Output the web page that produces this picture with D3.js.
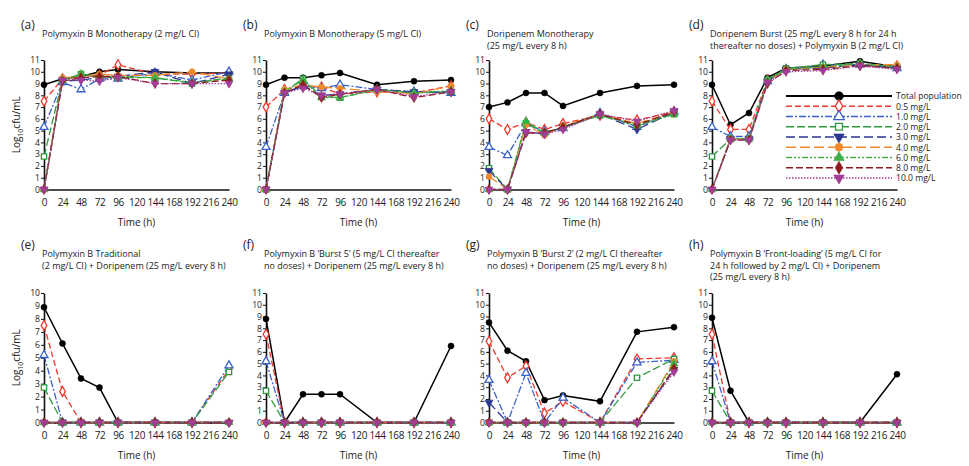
<!DOCTYPE html>
<html>
<head>
<meta charset="utf-8">
<script src="https://cdn.jsdelivr.net/npm/d3@7"></script>
<style>
  body { margin: 0; background: #fff; }
  svg { display: block; font-family: "Open Sans", "Noto Sans", sans-serif; }
</style>
</head>
<body>
<div id="chart"></div>
<script>
// time points (h) and tick labels
const hours = [0, 24, 48, 72, 96, 144, 192, 240];
const xTicks = [0, 24, 48, 72, 96, 120, 144, 168, 192, 216, 240];
const seriesNames = ["Total population", "0.5 mg/L", "1.0 mg/L", "2.0 mg/L", "3.0 mg/L",
                     "4.0 mg/L", "6.0 mg/L", "8.0 mg/L", "10.0 mg/L"];

// log10 cfu/mL, one row per series (same order as seriesNames)
const panelA = [
    [8.9, 9.4, 9.6, 10.0, 10.2, 10.0, 9.9, 9.9],
    [7.5, 9.4, 9.6, 9.7, 10.6, 9.8, 9.8, 9.9],
    [5.3, 9.1, 8.5, 9.4, 9.4, 9.9, 9.3, 10.0],
    [2.8, 9.3, 9.8, 9.6, 9.5, 9.5, 9.0, 9.5],
    [0, 9.2, 9.3, 9.5, 9.6, 10.0, 9.0, 9.8],
    [0, 9.5, 9.6, 9.8, 9.7, 9.7, 10.0, 9.4],
    [0, 9.3, 9.8, 9.5, 9.6, 9.5, 9.1, 9.4],
    [0, 9.2, 9.5, 9.6, 9.6, 9.0, 9.0, 9.3],
    [0, 9.3, 9.3, 9.2, 9.5, 9.0, 9.0, 9.0]
];
const panelB = [
    [8.9, 9.5, 9.5, 9.7, 9.9, 8.9, 9.2, 9.3],
    [7.0, 8.5, 8.8, 8.7, 8.1, 8.3, 8.2, 8.8],
    [3.6, 8.2, 8.8, 8.6, 8.9, 8.5, 8.3, 8.2],
    [0, 8.3, 9.4, 7.9, 7.8, 8.5, 8.2, 8.3],
    [0, 8.2, 8.8, 8.0, 8.1, 8.5, 8.3, 8.3],
    [0, 8.5, 8.9, 8.7, 8.6, 8.3, 8.1, 8.8],
    [0, 8.3, 9.3, 7.8, 7.8, 8.5, 8.2, 8.4],
    [0, 8.2, 8.9, 7.8, 8.1, 8.5, 7.8, 8.3],
    [0, 8.2, 8.6, 8.0, 8.1, 8.5, 7.9, 8.3]
];
const panelC = [
    [7.0, 7.4, 8.2, 8.2, 7.1, 8.2, 8.8, 8.9],
    [6.0, 5.1, 5.7, 5.1, 5.6, 6.3, 5.9, 6.6],
    [3.6, 2.9, 5.6, 4.9, 5.2, 6.5, 5.3, 6.6],
    [1.8, 0, 5.6, 4.8, 5.3, 6.3, 5.5, 6.4],
    [1.6, 0, 4.9, 4.7, 5.3, 6.4, 5.1, 6.6],
    [1.1, 0, 5.5, 4.6, 5.4, 6.4, 5.6, 6.6],
    [0, 0, 5.8, 4.8, 5.3, 6.3, 5.4, 6.4],
    [0, 0, 4.8, 4.8, 5.3, 6.4, 5.5, 6.6],
    [0, 0, 4.9, 4.7, 5.1, 6.4, 5.8, 6.7]
];
const panelD = [
    [8.9, 5.5, 6.5, 9.5, 10.3, 10.5, 10.9, 10.4],
    [7.5, 5.1, 5.1, 9.3, 10.2, 10.4, 10.6, 10.5],
    [5.3, 4.5, 4.5, 9.2, 10.2, 10.6, 10.6, 10.3],
    [2.8, 4.3, 4.3, 9.3, 10.3, 10.6, 10.7, 10.4],
    [0, 4.3, 4.3, 9.2, 10.2, 10.3, 10.6, 10.3],
    [0, 4.3, 4.3, 9.2, 10.2, 10.4, 10.6, 10.6],
    [0, 4.3, 4.3, 9.3, 10.2, 10.4, 10.7, 10.4],
    [0, 4.2, 4.2, 9.0, 10.1, 10.2, 10.5, 10.3],
    [0, 4.2, 4.2, 9.1, 10.0, 10.1, 10.5, 10.2]
];
const panelE = [
    [8.9, 6.1, 3.4, 2.7, 0, 0, 0, 0],
    [7.5, 2.4, 0, 0, 0, 0, 0, 4.1],
    [5.2, 0, 0, 0, 0, 0, 0, 4.4],
    [2.7, 0, 0, 0, 0, 0, 0, 3.9],
    [0, 0, 0, 0, 0, 0, 0, 0],
    [0, 0, 0, 0, 0, 0, 0, 0],
    [0, 0, 0, 0, 0, 0, 0, 0],
    [0, 0, 0, 0, 0, 0, 0, 0],
    [0, 0, 0, 0, 0, 0, 0, 0]
];
const panelF = [
    [8.8, 0, 2.4, 2.4, 2.4, 0, 0, 6.5],
    [7.5, 0, 0, 0, 0, 0, 0, 0],
    [5.2, 0, 0, 0, 0, 0, 0, 0],
    [2.7, 0, 0, 0, 0, 0, 0, 0],
    [0, 0, 0, 0, 0, 0, 0, 0],
    [0, 0, 0, 0, 0, 0, 0, 0],
    [0, 0, 0, 0, 0, 0, 0, 0],
    [0, 0, 0, 0, 0, 0, 0, 0],
    [0, 0, 0, 0, 0, 0, 0, 0]
];
const panelG = [
    [8.5, 6.1, 5.2, 1.9, 2.3, 1.8, 7.7, 8.1],
    [6.9, 3.8, 4.8, 0.8, 1.8, 0, 5.4, 5.5],
    [3.6, 0, 4.2, 0, 2.1, 0, 5.1, 5.3],
    [0, 0, 0, 0, 0, 0, 3.8, 5.4],
    [1.7, 0, 0, 0, 0, 0, 0, 4.5],
    [0, 0, 0, 0, 0, 0, 0, 5.2],
    [0, 0, 0, 0, 0, 0, 0, 5.0],
    [0, 0, 0, 0, 0, 0, 0, 4.6],
    [0, 0, 0, 0, 0, 0, 0, 4.3]
];
const panelH = [
    [8.9, 2.7, 0, 0, 0, 0, 0, 4.1],
    [7.5, 0, 0, 0, 0, 0, 0, 0],
    [5.2, 0, 0, 0, 0, 0, 0, 0],
    [2.7, 0, 0, 0, 0, 0, 0, 0],
    [0, 0, 0, 0, 0, 0, 0, 0],
    [0, 0, 0, 0, 0, 0, 0, 0],
    [0, 0, 0, 0, 0, 0, 0, 0],
    [0, 0, 0, 0, 0, 0, 0, 0],
    [0, 0, 0, 0, 0, 0, 0, 0]
];

// styling of each series
const styles = [
    { color: "#000000", dash: null,              symbol: "circle",   open: false },
    { color: "#ee3a2c", dash: "6,3",             symbol: "diamond",  open: true },
    { color: "#3b62c9", dash: "7,2,2,2",         symbol: "triangle", open: true },
    { color: "#2f9a3f", dash: "8,3",             symbol: "square",   open: true },
    { color: "#2c3591", dash: "9,4",             symbol: "down",     open: false },
    { color: "#f08a2b", dash: "10,4",            symbol: "circle",   open: false },
    { color: "#3fae47", dash: "6,2,2,2,2,2",     symbol: "triangle", open: false },
    { color: "#8e1c1c", dash: "7,3",             symbol: "diamond",  open: false },
    { color: "#a23c96", dash: "1.5,1.5",         symbol: "down",     open: false }
];

const panels = [
    { data: panelA, letter: "(a)", col: 0, row: 0, yMax: 11, ylabel: true,
      title: ["Polymyxin B Monotherapy (2 mg/L CI)"] },
    { data: panelB, letter: "(b)", col: 1, row: 0, yMax: 11,
      title: ["Polymyxin B Monotherapy (5 mg/L CI)"] },
    { data: panelC, letter: "(c)", col: 2, row: 0, yMax: 11,
      title: ["Doripenem Monotherapy", "(25 mg/L every 8 h)"] },
    { data: panelD, letter: "(d)", col: 3, row: 0, yMax: 11, legend: true,
      title: ["Doripenem Burst (25 mg/L every 8 h for 24 h", "thereafter no doses) + Polymyxin B (2 mg/L CI)"] },
    { data: panelE, letter: "(e)", col: 0, row: 1, yMax: 10, ylabel: true,
      title: ["Polymyxin B Traditional", "(2 mg/L CI) + Doripenem (25 mg/L every 8 h)"] },
    { data: panelF, letter: "(f)", col: 1, row: 1, yMax: 11,
      title: ["Polymyxin B \u2018Burst 5\u2019 (5 mg/L CI thereafter", "no doses) + Doripenem (25 mg/L every 8 h)"] },
    { data: panelG, letter: "(g)", col: 2, row: 1, yMax: 11,
      title: ["Polymyxin B \u2018Burst 2\u2019 (2 mg/L CI thereafter", "no doses) + Doripenem (25 mg/L every 8 h)"] },
    { data: panelH, letter: "(h)", col: 3, row: 1, yMax: 11,
      title: ["Polymyxin B \u2018Front-loading\u2019 (5 mg/L CI for", "24 h followed by 2 mg/L CI) + Doripenem", "(25 mg/L every 8 h)"] }
];

const colLeft = [44, 266, 489, 712];
const plotW = 185;
const rowTop = [60, 293];
const plotH = 129.5;

const svg = d3.select("#chart").append("svg")
    .attr("width", 969)
    .attr("height", 466);

function symbolPath(name, size) {
    const types = {
        circle: d3.symbolCircle, diamond: d3.symbolDiamond, triangle: d3.symbolTriangle,
        square: d3.symbolSquare, down: d3.symbolTriangle
    };
    return d3.symbol().type(types[name]).size(size)();
}

function drawMarker(g, st, x, y, size) {
    g.append("path")
        .attr("d", symbolPath(st.symbol, size))
        .attr("transform", `translate(${x},${y})` + (st.symbol === "down" ? " rotate(180)" : ""))
        .attr("fill", st.open ? "#fff" : st.color)
        .attr("stroke", st.color)
        .attr("stroke-width", st.open ? 1.3 : 0.6);
}

panels.forEach(p => {
    const left = colLeft[p.col];
    const top = rowTop[p.row];
    const g = svg.append("g").attr("transform", `translate(${left},${top})`);

    const x = d3.scaleLinear().domain([0, 240]).range([0, plotW]);
    const y = d3.scaleLinear().domain([0, p.yMax]).range([plotH, 0]);

    // panel letter and title
    svg.append("text")
        .attr("x", left - 23)
        .attr("y", p.row === 0 ? 29 : 249)
        .attr("font-size", 12)
        .attr("fill", "#222")
        .text(p.letter);
    p.title.forEach((line, i) => {
        svg.append("text")
            .attr("x", left - 2)
            .attr("y", (p.row === 0 ? 37 : 257) + i * 11.5)
            .attr("font-size", 9)
            .attr("fill", "#222")
            .text(line);
    });

    // axes
    const xAxis = g.append("g")
        .attr("transform", `translate(0,${plotH})`)
        .call(d3.axisBottom(x).tickValues(xTicks).tickSize(0).tickSizeOuter(0));
    const yAxis = g.append("g")
        .call(d3.axisLeft(y).ticks(p.yMax).tickSize(3).tickSizeOuter(0));
    [xAxis, yAxis].forEach(a => {
        a.select(".domain").attr("stroke", "#111").attr("stroke-width", 1.6);
        a.selectAll(".tick line").attr("stroke", "#111");
        a.selectAll(".tick text")
            .attr("font-family", "'Open Sans', sans-serif")
            .attr("fill", "#222");
    });
    xAxis.selectAll(".tick text")
        .attr("font-size", 10)
        .attr("y", 9)
        .attr("letter-spacing", -0.4);
    yAxis.selectAll(".tick text")
        .attr("font-size", 8.6)
        .attr("x", -4);

    g.append("text")
        .attr("x", plotW / 2)
        .attr("y", plotH + 36)
        .attr("text-anchor", "middle")
        .attr("font-size", 10)
        .attr("fill", "#222")
        .text("Time (h)");

    if (p.ylabel) {
        const t = g.append("text")
            .attr("transform", `translate(-24,${plotH / 2}) rotate(-90)`)
            .attr("text-anchor", "middle")
            .attr("font-size", 10)
            .attr("fill", "#222");
        t.append("tspan").text("Log");
        t.append("tspan").attr("font-size", 7).attr("dy", 3).text("10");
        t.append("tspan").attr("dy", -3).text("cfu/mL");
    }

    // series: total first, highest concentration last (on top)
    const line = d3.line().x((d, i) => x(hours[i])).y(d => y(d));
    p.data.forEach((vals, si) => {
        const st = styles[si];
        g.append("path")
            .datum(vals)
            .attr("d", line)
            .attr("fill", "none")
            .attr("stroke", st.color)
            .attr("stroke-width", si === 0 ? 1.5 : 1.3)
            .attr("stroke-dasharray", st.dash);
        vals.forEach((v, i) => drawMarker(g, st, x(hours[i]), y(v), 28));
    });

    if (p.legend) {
        const lg = svg.append("g").attr("transform", "translate(786,96)");
        seriesNames.forEach((name, i) => {
            const st = styles[i];
            const yy = i * 10.25;
            lg.append("line")
                .attr("x1", 0).attr("x2", 106)
                .attr("y1", yy).attr("y2", yy)
                .attr("stroke", st.color)
                .attr("stroke-width", i === 0 ? 1.8 : 1.5)
                .attr("stroke-dasharray", st.dash);
            drawMarker(lg, st, 53, yy, i === 0 ? 60 : 48);
            lg.append("text")
                .attr("x", 110)
                .attr("y", yy + 3.3)
                .attr("font-size", 8.6)
                .attr("fill", "#222")
                .text(name);
        });
    }
});
</script>
</body>
</html>
